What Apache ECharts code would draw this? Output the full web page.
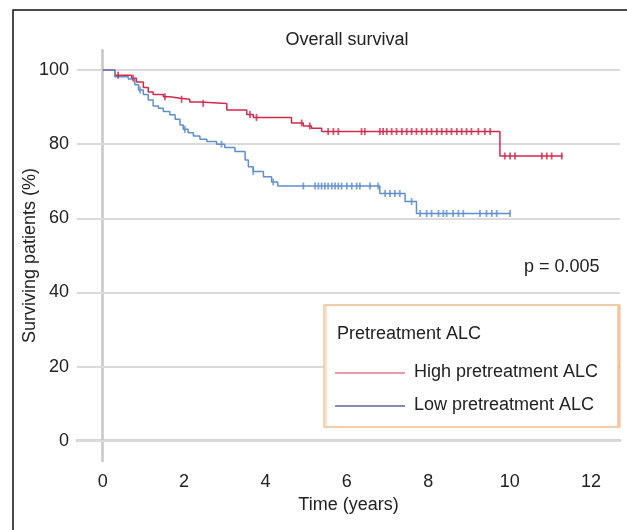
<!DOCTYPE html>
<html>
<head>
<meta charset="utf-8">
<title>Overall survival</title>
<script src="https://cdn.jsdelivr.net/npm/echarts@6/dist/echarts.min.js"></script>
<style>
  html, body { margin: 0; padding: 0; background: #fff; }
  #chart { width: 627px; height: 530px; }
</style>
</head>
<body>
<div id="chart"></div>
<script>
// Kaplan-Meier steps: time (years) of each drop and survival (%) after it
var highTimes = [0, 0.30, 0.71, 0.83, 1.00, 1.12, 1.24, 1.49, 1.65, 1.90, 2.14, 2.39, 3.05, 3.54, 3.70, 4.64, 4.93, 5.13, 5.38, 9.76, 11.30]
var highSurv  = [100, 98.6, 97.8, 96.8, 95.3, 94.1, 93.4, 92.8, 92.4, 92.1, 91.4, 91.0, 89.2, 88.0, 87.2, 85.7, 84.9, 84.3, 83.4, 76.8, 76.8]
var highCensor = [0.38, 0.75, 1.53, 1.94, 2.47, 3.62, 3.78, 4.89, 5.09, 5.54, 5.67, 5.79, 6.36, 6.44, 6.81, 6.89, 6.98, 7.10,
  7.22, 7.35, 7.47, 7.59, 7.71, 7.84, 7.96, 8.08, 8.21, 8.33, 8.45, 8.57, 8.70, 8.82, 8.94, 9.06, 9.23, 9.39, 9.52,
  9.88, 10.01, 10.13, 10.79, 10.91, 11.03, 11.28]

var lowTimes = [0, 0.30, 0.63, 0.79, 0.88, 1.00, 1.12, 1.24, 1.37, 1.49, 1.65, 1.78, 1.90, 1.98, 2.10, 2.23, 2.39, 2.56,
  2.80, 3.00, 3.25, 3.50, 3.58, 3.70, 3.95, 4.15, 4.30, 6.81, 7.43, 7.71, 10.01]
var lowSurv  = [100, 98.2, 97.6, 96.0, 94.6, 93.4, 91.9, 90.3, 89.7, 88.8, 87.9, 86.7, 85.2, 84.0, 83.1, 82.2, 81.3, 80.7,
  80.0, 79.1, 78.0, 75.7, 73.9, 72.6, 71.2, 69.8, 68.7, 66.7, 64.5, 61.3, 61.3]
var lowCensor = [0.92, 2.02, 2.92, 3.70, 4.19, 4.93, 5.22, 5.30, 5.38, 5.46, 5.54, 5.63, 5.71, 5.79, 5.87, 6.00, 6.12,
  6.24, 6.32, 6.57, 6.77, 6.94, 7.06, 7.18, 7.30, 7.59, 7.80, 7.96, 8.08, 8.25, 8.37, 8.45, 8.61, 8.74, 8.86, 9.27,
  9.43, 9.56, 9.68, 10.01]

var xTicks = [0, 2, 4, 6, 8, 10, 12]
var yTicks = [0, 20, 40, 60, 80, 100]

var FONT = '"Liberation Sans", Arial, sans-serif'
var RED = '#cf2b4c'
var BLUE = '#5f8fd0'

function pairs(times, vals) {
  return times.map(function (t, i) { return [t, vals[i]] })
}
// survival value the curve has at time t (for the censor ticks)
function survAt(times, vals, t) {
  var v = vals[0]
  for (var i = 0; i < times.length; i++) {
    if (times[i] <= t) v = vals[i]
  }
  return v
}
function censorPts(times, vals, cens) {
  return cens.map(function (t) { return [t, survAt(times, vals, t)] })
}

var chart = echarts.init(document.getElementById('chart'))

var option = {
  animation: false,
  backgroundColor: '#fff',
  textStyle: { fontFamily: FONT },
  grid: { left: 77, right: 7, top: 50, bottom: 69 },
  xAxis: {
    type: 'value',
    min: -0.63,
    max: 12.71,
    name: 'Time (years)',
    nameLocation: 'middle',
    nameMoveOverlap: false,
    nameGap: 35,
    nameTextStyle: { fontSize: 18, color: '#222', fontFamily: FONT },
    axisLine: { show: true, lineStyle: { color: '#c6c6c6', width: 2.5 } },
    axisTick: { show: false, customValues: xTicks },
    axisLabel: { customValues: xTicks, fontSize: 18, color: '#222', margin: 12, fontFamily: FONT },
    splitLine: { show: false }
  },
  yAxis: {
    type: 'value',
    min: -5.48,
    max: 105.4,
    name: 'Surviving patients (%)',
    nameLocation: 'middle',
    nameMoveOverlap: false,
    nameGap: 38,
    nameTextStyle: { fontSize: 18, color: '#222', fontFamily: FONT },
    axisLine: { show: true, lineStyle: { color: '#c6c6c6', width: 2.5 } },
    axisTick: { show: false, customValues: yTicks },
    axisLabel: { customValues: yTicks, fontSize: 18, color: '#222', margin: 8, fontFamily: FONT },
    splitLine: { show: false }
  },
  series: [
    {
      // horizontal grid lines at the y tick values
      type: 'line',
      data: [],
      z: 1,
      silent: true,
      markLine: {
        z: 1,
        silent: true,
        symbol: 'none',
        label: { show: false },
        lineStyle: { color: '#dadada', width: 2, type: 'solid' },
        data: yTicks.map(function (v) { return { yAxis: v } })
      }
    },
    {
      name: 'High pretreatment ALC',
      type: 'line',
      step: 'end',
      z: 3,
      showSymbol: false,
      lineStyle: { color: RED, width: 1.5 },
      data: pairs(highTimes, highSurv)
    },
    {
      type: 'scatter',
      z: 4,
      symbol: 'rect',
      symbolSize: [1.8, 7],
      itemStyle: { color: RED },
      data: censorPts(highTimes, highSurv, highCensor)
    },
    {
      name: 'Low pretreatment ALC',
      type: 'line',
      step: 'end',
      z: 3,
      showSymbol: false,
      lineStyle: { color: BLUE, width: 1.5 },
      data: pairs(lowTimes, lowSurv)
    },
    {
      type: 'scatter',
      z: 4,
      symbol: 'rect',
      symbolSize: [1.8, 7],
      itemStyle: { color: BLUE },
      data: censorPts(lowTimes, lowSurv, lowCensor)
    }
  ],
  graphic: [
    {
      type: 'rect',
      shape: { x: 13, y: 10, width: 700, height: 600 },
      style: { fill: 'none', stroke: '#111', lineWidth: 1.5 },
      silent: true
    },
    {
      type: 'text',
      x: 347, y: 40,
      style: { text: 'Overall survival', font: '18px ' + FONT, fill: '#222', textAlign: 'center', textVerticalAlign: 'middle', verticalAlign: 'middle' }
    },
    {
      type: 'text',
      x: 524, y: 267,
      style: { text: 'p = 0.005', font: '18px ' + FONT, fill: '#222', textAlign: 'left', textVerticalAlign: 'middle', verticalAlign: 'middle' }
    },
    {
      type: 'rect',
      z: 10,
      shape: { x: 324, y: 305, width: 294, height: 122 },
      style: {
        fill: '#fff', stroke: '#f1c59c', lineWidth: 1.5,
        shadowColor: 'rgba(236,160,90,0.45)', shadowBlur: 1, shadowOffsetX: 2, shadowOffsetY: 0
      }
    },
    {
      type: 'text',
      z: 11,
      x: 337, y: 334,
      style: { text: 'Pretreatment ALC', font: '18px ' + FONT, fill: '#222', textAlign: 'left', textVerticalAlign: 'middle', verticalAlign: 'middle' }
    },
    {
      type: 'line',
      z: 11,
      shape: { x1: 335, y1: 373, x2: 405, y2: 373 },
      style: { stroke: '#e07a8b', lineWidth: 1.5 }
    },
    {
      type: 'text',
      z: 11,
      x: 414, y: 372,
      style: { text: 'High pretreatment ALC', font: '18px ' + FONT, fill: '#222', textAlign: 'left', textVerticalAlign: 'middle', verticalAlign: 'middle' }
    },
    {
      type: 'line',
      z: 11,
      shape: { x1: 335, y1: 406, x2: 405, y2: 406 },
      style: { stroke: '#56699f', lineWidth: 1.5 }
    },
    {
      type: 'text',
      z: 11,
      x: 414, y: 405,
      style: { text: 'Low pretreatment ALC', font: '18px ' + FONT, fill: '#222', textAlign: 'left', textVerticalAlign: 'middle', verticalAlign: 'middle' }
    }
  ]
}

chart.setOption(option)
</script>
</body>
</html>
